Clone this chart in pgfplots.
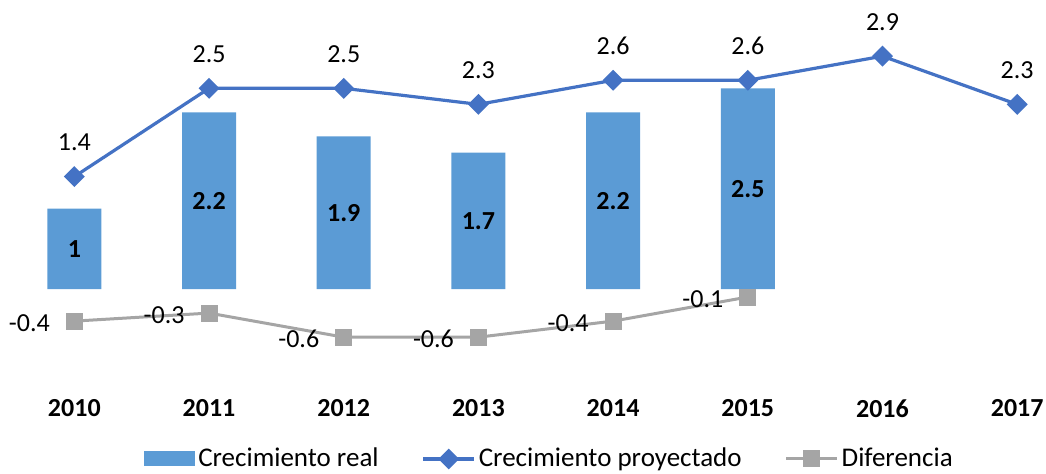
\documentclass[border=0pt]{standalone}
\usepackage{fontspec}
\setmainfont{Carlito}
\usepackage{pgfplots}
\pgfplotsset{compat=1.18}
\usepackage{pgfplotstable}
\definecolor{barblue}{HTML}{5B9BD5}
\definecolor{lineblue}{HTML}{4472C4}
\definecolor{grayline}{HTML}{A5A5A5}

\pgfplotstableread{
x y lab
0 1.0 1
1 2.2 2.2
2 1.9 1.9
3 1.7 1.7
4 2.2 2.2
5 2.5 2.5
}\real
\pgfplotstableread{
x y lab
0 1.4 1.4
1 2.5 2.5
2 2.5 2.5
3 2.3 2.3
4 2.6 2.6
5 2.6 2.6
6 2.9 2.9
7 2.3 2.3
}\proy
\pgfplotstableread{
x y lab
0 -0.4 -0.4
1 -0.3 -0.3
2 -0.6 -0.6
3 -0.6 -0.6
4 -0.4 -0.4
5 -0.1 -0.1
}\dif

\pgfplotsset{mylinelegend/.style={legend image code/.code={\draw[mark repeat=2,mark phase=2,##1] plot coordinates {(0pt,0pt) (12.75pt,0pt) (25.5pt,0pt)};}}}

\begin{document}
\begin{tikzpicture}
\begin{axis}[
  at={(3.5pt,47.85pt)}, anchor=south west,
  scale only axis, width=519.5pt, height=188.65pt,
  xmin=-0.5, xmax=7.214, ymin=-1.1, ymax=3.6,
  axis line style={draw=none},
  ytick=\empty,
  xtick={0,1,2,3,4,5,6,7},
  xticklabels={2010,2011,2012,2013,2014,2015,2016,2017},
  major tick length=0pt,
  xticklabel style={font=\fontsize{13}{15}\selectfont\bfseries, anchor=center, yshift=-15.5pt},
  clip=false,
  legend columns=3,
  legend cell align=left,
  legend style={at={(axis description cs:0.5226,-0.2165)}, anchor=center,
    draw=none, fill=none, font=\fontsize{13.5}{15}\selectfont,
    nodes={inner sep=1.5pt},
    /tikz/every even column/.append style={column sep=20pt}},
]
\addplot[ybar, bar width=27pt, fill=barblue, draw=none,
  legend image code/.code={\fill[barblue] (0pt,-3.75pt) rectangle (25.5pt,3.75pt);}]
  table[x=x, y=y] {\real};
\addlegendentry{Crecimiento real}

\addplot[lineblue, line width=1.6pt, mark=square*, mark size=2.9pt,
  mark options={rotate=45}, mylinelegend,
  nodes near coords=\pgfplotspointmeta, point meta=explicit symbolic,
  nodes near coords style={font=\fontsize{13}{15}\selectfont, text=black, anchor=south, inner sep=0pt, yshift=12pt}]
  table[x=x, y=y, meta=lab] {\proy};
\addlegendentry{Crecimiento proyectado}

\addplot[grayline, line width=1.5pt, mark=square*, mark size=3.5pt, mylinelegend,
  nodes near coords=\pgfplotspointmeta, point meta=explicit symbolic,
  nodes near coords style={font=\fontsize{13}{15}\selectfont, text=black, anchor=east, inner sep=0pt, xshift=-11.5pt, yshift=-1pt}]
  table[x=x, y=y, meta=lab] {\dif};
\addlegendentry{Diferencia}

\addplot[draw=none, mark=none, forget plot,
  nodes near coords=\pgfplotspointmeta, point meta=explicit symbolic,
  nodes near coords style={font=\fontsize{13}{15}\selectfont\bfseries, text=black, anchor=center, inner sep=0pt}]
  table[x=x, y expr=\thisrow{y}/2, meta=lab] {\real};
\end{axis}
\pgfresetboundingbox
\path[use as bounding box] (0,0) rectangle (523pt,236.5pt);
\end{tikzpicture}
\end{document}
